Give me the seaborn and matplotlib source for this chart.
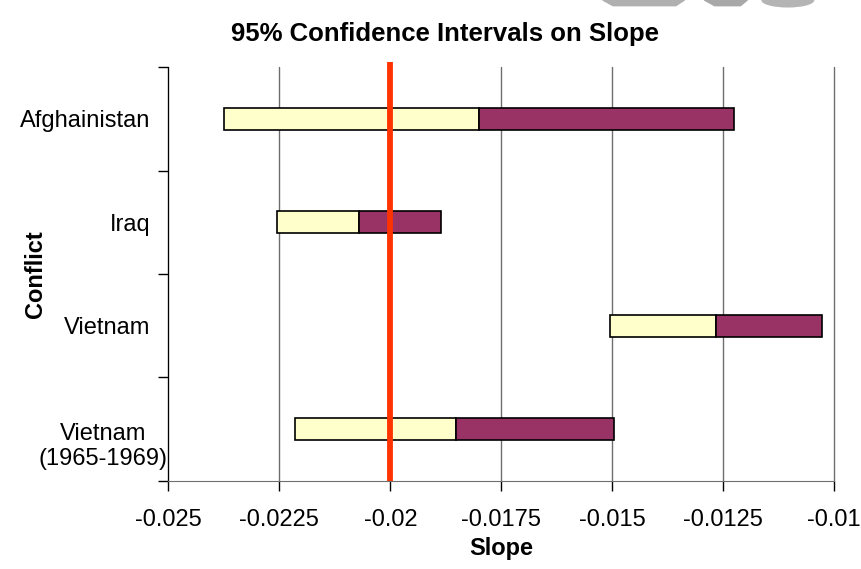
import matplotlib
matplotlib.use("Agg")
import matplotlib.pyplot as plt
from matplotlib.patches import Polygon, Ellipse
from matplotlib.transforms import ScaledTranslation
import seaborn as sns
import pandas as pd

# confidence interval data (top to bottom)
conflicts = ["Afghainistan", "Iraq", "Vietnam", "Vietnam\n(1965-1969)"]
lower = [-0.02375, -0.02255, -0.01504, -0.02214]
estimate = [-0.01801, -0.02070, -0.01266, -0.01853]
upper = [-0.01225, -0.01885, -0.01026, -0.01495]

x_ticks = [-0.025, -0.0225, -0.02, -0.0175, -0.015, -0.0125, -0.01]
x_labels = ["-0.025", "-0.0225", "-0.02", "-0.0175", "-0.015", "-0.0125", "-0.01"]
reference_slope = -0.02

df = pd.DataFrame({"conflict": conflicts, "lower": lower,
                   "estimate": estimate, "upper": upper})
df["pos"] = range(len(df))

sns.set_style("white")
plt.rcParams["font.family"] = ["Liberation Sans", "DejaVu Sans"]
plt.rcParams.update({"text.color": "black", "axes.labelcolor": "black",
                     "xtick.color": "black", "ytick.color": "black"})

fig = plt.figure(figsize=(8.61, 5.69), dpi=100)
ax = fig.add_axes([0.1957, 0.1547, 0.7729, 0.7275])

bar_h = 0.21
# lower half of interval (pale yellow), upper half (plum)
ax.barh(df["pos"], df["estimate"] - df["lower"], left=df["lower"], height=bar_h,
        color="#FFFFCC", edgecolor="black", linewidth=1.2, zorder=3)
ax.barh(df["pos"], df["upper"] - df["estimate"], left=df["estimate"], height=bar_h,
        color="#993366", edgecolor="black", linewidth=1.2, zorder=3)

ax.axvline(reference_slope, ymin=0, ymax=1.012, clip_on=False, solid_capstyle="butt",
           color="#FF3300", linewidth=4.2, zorder=4)

ax.set_xlim(x_ticks[0], x_ticks[-1])
ax.set_ylim(len(df) - 0.5, -0.5)

ax.set_xticks(x_ticks)
ax.set_xticklabels(x_labels, fontsize=17)
ax.xaxis.grid(True, color="#6e6e6e", linewidth=1.0, zorder=0)
for gl in ax.get_xgridlines():
    gl.set_clip_on(False)

# ticks at category boundaries, labels at centres (Excel style)
ax.set_yticks([p - 0.5 for p in range(len(df) + 1)])
ax.set_yticklabels([])
ax.set_yticks(df["pos"], minor=True)
ax.set_yticklabels(df["conflict"], minor=True, fontsize=17, multialignment="center")
ax.tick_params(axis="y", which="minor", length=0, pad=13)
ax.tick_params(axis="y", which="major", length=7, width=1, color="black", direction="out", left=True)
ax.tick_params(axis="x", length=7, width=1, color="black", direction="out", bottom=True, pad=13)

# the wrapped label sits a bit lower and further right in the original
wrapped = ax.yaxis.get_minor_ticks()[-1].label1
wrapped.set_transform(wrapped.get_transform() + ScaledTranslation(0.17, -0.13, fig.dpi_scale_trans))

for side in ["top", "right"]:
    ax.spines[side].set_visible(False)
ax.spines["left"].set_color("black")
ax.spines["bottom"].set_color("#6e6e6e")

ax.set_xlabel("Slope", fontsize=17, fontweight="bold")
ax.xaxis.label.set_va("center")
ax.xaxis.set_label_coords(0.5, -0.162)
ax.set_ylabel("Conflict", fontsize=17, fontweight="bold")
ax.yaxis.label.set_va("center")
ax.yaxis.label.set_ha("center")
ax.yaxis.set_label_coords(-0.2006, 0.5)
fig.text(0.517, 0.941, "95% Confidence Intervals on Slope", fontsize=18.5,
         fontweight="bold", ha="center", va="center")

# grey clip-art shapes peeking in at the top edge
fig.patches.append(Polygon([[0.70, 1.0], [0.795, 1.0], [0.785, 0.99], [0.712, 0.99]],
                           closed=True, transform=fig.transFigure, color="#b0b0b0"))
fig.patches.append(Polygon([[0.818, 1.0], [0.868, 1.0], [0.86, 0.99], [0.83, 0.99]],
                           closed=True, transform=fig.transFigure, color="#a8a8a8"))
fig.patches.append(Ellipse((0.915, 1.0), 0.06, 0.024, transform=fig.transFigure, color="#b4b4b4"))

fig.savefig("out.png", dpi=100)
